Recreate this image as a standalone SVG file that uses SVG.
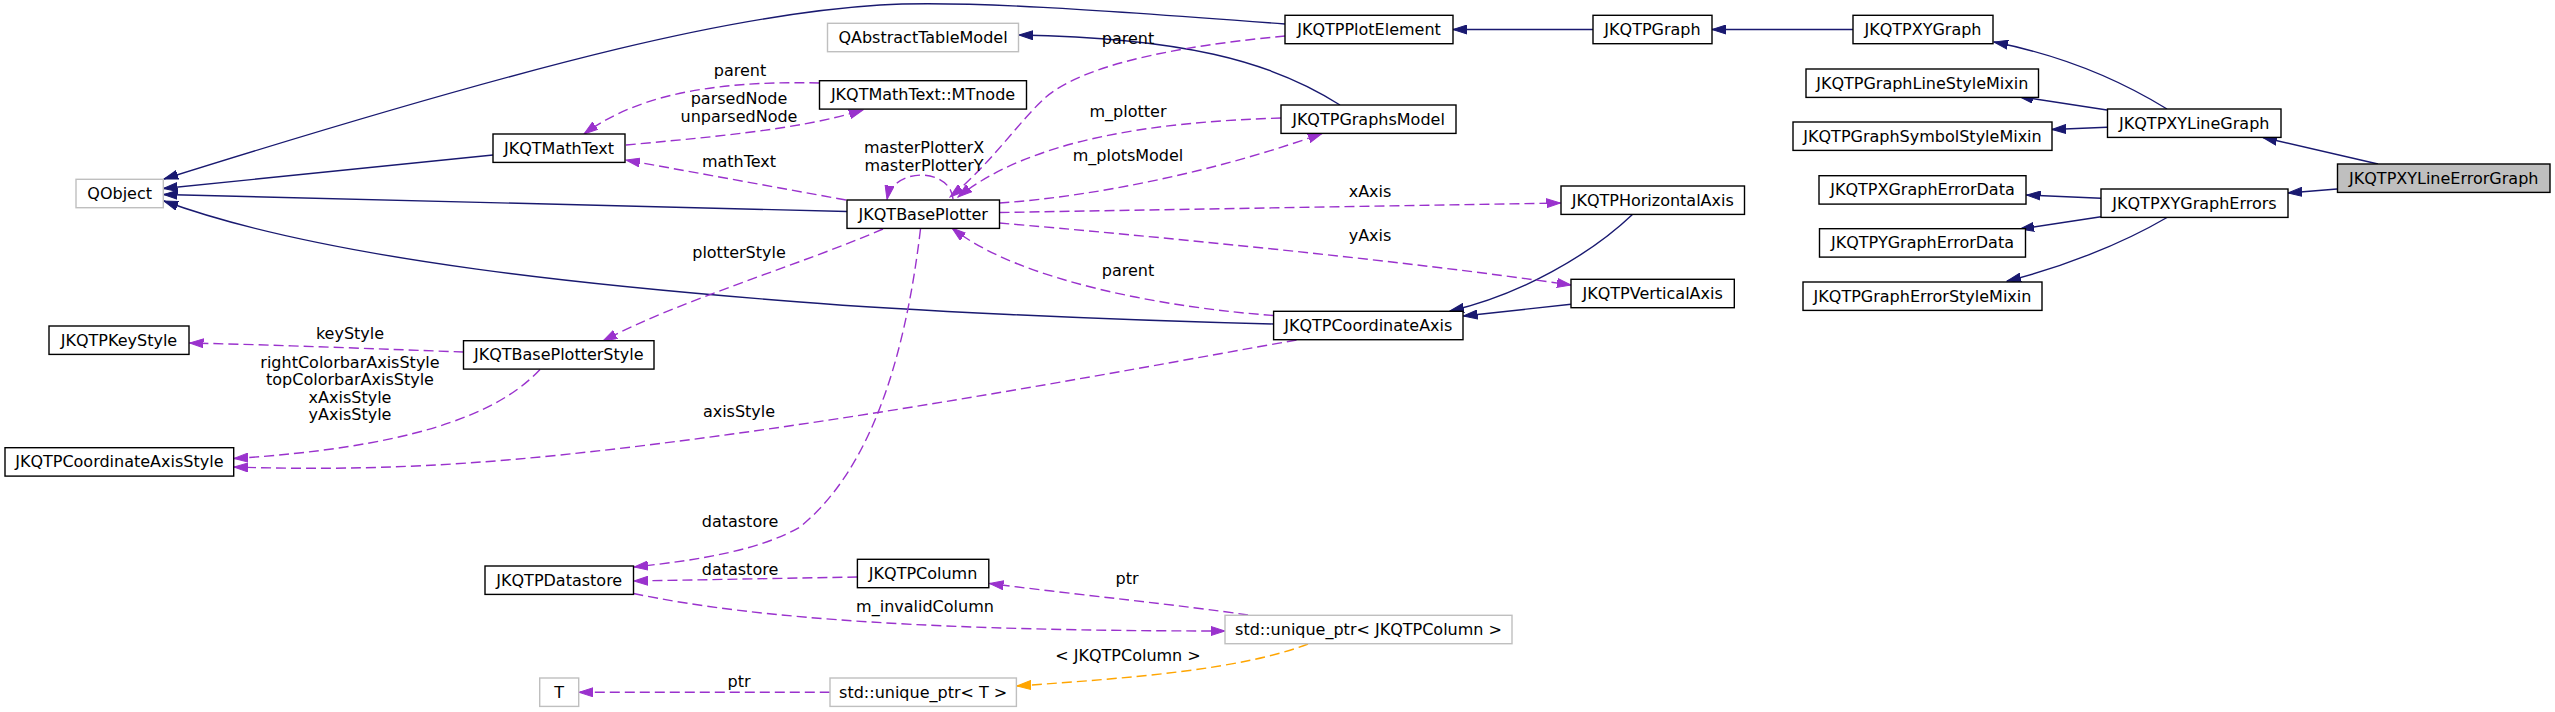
<svg xmlns="http://www.w3.org/2000/svg" width="2555" height="712" viewBox="0 0 2555 712">
<style>
text{font-family:"DejaVu Sans","Liberation Sans",sans-serif;font-size:16px;fill:#000;text-anchor:middle}
.nb{fill:#fff;stroke:#000;stroke-width:1.4}
.ng{fill:#fff;stroke:#bfbfbf;stroke-width:1.4}
.nh{fill:#bfbfbf;stroke:#000;stroke-width:1.4}
.inh{fill:none;stroke:#191970;stroke-width:1.4;marker-end:url(#an)}
.use{fill:none;stroke:#9a32cd;stroke-width:1.4;stroke-dasharray:10,5;marker-end:url(#ap)}
.tpl{fill:none;stroke:#ffa500;stroke-width:1.4;stroke-dasharray:10,5;marker-end:url(#ao)}
</style>
<defs>
<marker id="an" markerWidth="15" markerHeight="10" refX="14" refY="5" orient="auto" markerUnits="userSpaceOnUse"><path d="M0,0.5 L14,5 L0,9.5 z" fill="#191970" stroke="#191970" stroke-width="1"/></marker>
<marker id="ap" markerWidth="15" markerHeight="10" refX="14" refY="5" orient="auto" markerUnits="userSpaceOnUse"><path d="M0,0.5 L14,5 L0,9.5 z" fill="#9a32cd" stroke="#9a32cd" stroke-width="1"/></marker>
<marker id="ao" markerWidth="15" markerHeight="10" refX="14" refY="5" orient="auto" markerUnits="userSpaceOnUse"><path d="M0,0.5 L14,5 L0,9.5 z" fill="#ffa500" stroke="#ffa500" stroke-width="1"/></marker>
</defs>
<rect width="2555" height="712" fill="#fff"/>
<g id="connectors">
<path class="inh" d="M1285,24 C1100,10 960,0 880,5 C740,14 560,55 164,179"/>
<path class="inh" d="M493,155 L163.5,188.5"/>
<path class="inh" d="M847,211.5 L163.5,194.5"/>
<path class="inh" d="M1273.6,324 C1100,320 900,310 800,302 C620,288 330,262 164,201"/>
<path class="inh" d="M1340,105 C1270,60 1180,38 1019,35"/>
<path class="inh" d="M1593,29.5 L1453,29.5"/>
<path class="inh" d="M1853,29.5 L1712,29.5"/>
<path class="inh" d="M2167,109 C2120,80 2060,55 1994,42"/>
<path class="inh" d="M2107,110 L2019,96.5"/>
<path class="inh" d="M2107,127.3 L2052,129.5"/>
<path class="inh" d="M2378,164 L2263,137.5"/>
<path class="inh" d="M2337,189 L2288,193"/>
<path class="inh" d="M2101,198.3 L2026.5,195"/>
<path class="inh" d="M2101,216.7 L2020,229"/>
<path class="inh" d="M2167,217.5 C2120,245 2060,268 2007,281"/>
<path class="inh" d="M1633,214 C1590,255 1520,295 1450,311"/>
<path class="inh" d="M1571,304.3 L1463.5,316"/>
<path class="use" d="M819.5,83 C700,80 630,100 584,134"/>
<text x="740" y="76">parent</text>
<path class="use" d="M626,145 C700,138 800,130 863,110"/>
<text x="739" y="104">parsedNode</text>
<text x="739" y="121.5">unparsedNode</text>
<path class="use" d="M846,200 L626,160"/>
<text x="739" y="166.5">mathText</text>
<path class="use" d="M1285,36 C1200,44 1090,60 1046,97 C1020,120 990,165 950,197"/>
<text x="1128" y="44">parent</text>
<path class="use" d="M1281,118 C1150,122 1030,140 958,197"/>
<text x="1128" y="117">m_plotter</text>
<path class="use" d="M999.5,203 C1100,196 1220,170 1322,133.5"/>
<text x="1128" y="160.5">m_plotsModel</text>
<path class="use" d="M953,199 C950,167 893,167 887,199.5"/>
<text x="924" y="152.7">masterPlotterX</text>
<text x="924" y="170.7">masterPlotterY</text>
<path class="use" d="M999.5,212.5 L1560.5,203"/>
<text x="1370" y="196.7">xAxis</text>
<path class="use" d="M999.5,223 C1150,236 1400,260 1571,285"/>
<text x="1370" y="240.7">yAxis</text>
<path class="use" d="M1273.5,315.5 C1170,308 1020,282 952,228"/>
<text x="1128" y="276">parent</text>
<path class="use" d="M883,229 C800,265 680,300 603,341"/>
<text x="739" y="257.5">plotterStyle</text>
<path class="use" d="M463.5,352 C380,349 280,345 189.5,343"/>
<text x="350" y="339.3">keyStyle</text>
<path class="use" d="M540,369.5 C495,418 400,448 234,458.5"/>
<text x="350" y="367.5">rightColorbarAxisStyle</text>
<text x="350" y="385">topColorbarAxisStyle</text>
<text x="350" y="402.5">xAxisStyle</text>
<text x="350" y="420">yAxisStyle</text>
<path class="use" d="M1296.5,340 C1100,375 820,428 560,455 C430,468.5 330,470 234,467"/>
<text x="739" y="416.7">axisStyle</text>
<path class="use" d="M920.5,229 C905,360 870,470 800,527 C760,550 700,560 634,567"/>
<text x="740" y="527.3">datastore</text>
<path class="use" d="M857.4,577 L634,581"/>
<text x="740" y="575">datastore</text>
<path class="use" d="M633.5,593.5 C760,620 950,631 1225,631"/>
<text x="925" y="612">m_invalidColumn</text>
<path class="use" d="M1248,615 C1180,605 1080,595 989.5,583.5"/>
<text x="1127" y="584">ptr</text>
<path class="tpl" d="M1308,644 C1240,670 1130,678 1017,686"/>
<text x="1128" y="660.7">&lt; JKQTPColumn &gt;</text>
<path class="use" d="M829.8,692.3 L579,692.3"/>
<text x="739" y="686.7">ptr</text>
</g>
<g id="n_JKQTPXYLineErrorGraph"><rect class="nh" x="2337.5" y="164" width="212.5" height="28.4"/><text x="2443.75" y="183.7">JKQTPXYLineErrorGraph</text></g>
<g id="n_JKQTPXYLineGraph"><rect class="nb" x="2107.5" y="109" width="173.5" height="28.4"/><text x="2194.25" y="128.7">JKQTPXYLineGraph</text></g>
<g id="n_JKQTPXYGraphErrors"><rect class="nb" x="2101" y="189" width="187" height="28.4"/><text x="2194.5" y="208.7">JKQTPXYGraphErrors</text></g>
<g id="n_JKQTPXYGraph"><rect class="nb" x="1853" y="15.3" width="140" height="28.4"/><text x="1923" y="35">JKQTPXYGraph</text></g>
<g id="n_JKQTPGraphLineStyleMixin"><rect class="nb" x="1806" y="69" width="232.5" height="28.4"/><text x="1922.25" y="88.7">JKQTPGraphLineStyleMixin</text></g>
<g id="n_JKQTPGraphSymbolStyleMixin"><rect class="nb" x="1793" y="122" width="259" height="28.4"/><text x="1922.5" y="141.7">JKQTPGraphSymbolStyleMixin</text></g>
<g id="n_JKQTPXGraphErrorData"><rect class="nb" x="1819" y="175.7" width="207" height="28.4"/><text x="1922.5" y="195.4">JKQTPXGraphErrorData</text></g>
<g id="n_JKQTPYGraphErrorData"><rect class="nb" x="1819.5" y="228.7" width="206" height="28.4"/><text x="1922.5" y="248.4">JKQTPYGraphErrorData</text></g>
<g id="n_JKQTPGraphErrorStyleMixin"><rect class="nb" x="1803" y="282" width="239" height="28.4"/><text x="1922.5" y="301.7">JKQTPGraphErrorStyleMixin</text></g>
<g id="n_JKQTPGraph"><rect class="nb" x="1593" y="15.3" width="119" height="28.4"/><text x="1652.5" y="35">JKQTPGraph</text></g>
<g id="n_JKQTPPlotElement"><rect class="nb" x="1285" y="15.3" width="168" height="28.4"/><text x="1369" y="35">JKQTPPlotElement</text></g>
<g id="n_QAbstractTableModel"><rect class="ng" x="827.5" y="23.3" width="191" height="28.4"/><text x="923" y="43">QAbstractTableModel</text></g>
<g id="n_MTnode"><rect class="nb" x="819.5" y="80.7" width="207" height="28.4"/><text x="923" y="100.4">JKQTMathText::MTnode</text></g>
<g id="n_JKQTPGraphsModel"><rect class="nb" x="1281" y="105" width="175" height="28.4"/><text x="1368.5" y="124.7">JKQTPGraphsModel</text></g>
<g id="n_JKQTBasePlotter"><rect class="nb" x="847" y="200" width="152.5" height="28.4"/><text x="923.25" y="219.7">JKQTBasePlotter</text></g>
<g id="n_JKQTPHorizontalAxis"><rect class="nb" x="1561" y="186" width="183.5" height="28.4"/><text x="1652.75" y="205.7">JKQTPHorizontalAxis</text></g>
<g id="n_JKQTPVerticalAxis"><rect class="nb" x="1571" y="279.3" width="163.3" height="28.4"/><text x="1652.65" y="299">JKQTPVerticalAxis</text></g>
<g id="n_JKQTPCoordinateAxis"><rect class="nb" x="1273.6" y="311.3" width="189.4" height="28.4"/><text x="1368.3" y="331">JKQTPCoordinateAxis</text></g>
<g id="n_JKQTMathText"><rect class="nb" x="493" y="134" width="132" height="28.4"/><text x="559" y="153.7">JKQTMathText</text></g>
<g id="n_QObject"><rect class="ng" x="76" y="179.3" width="87.3" height="28.4"/><text x="119.65" y="199">QObject</text></g>
<g id="n_JKQTPKeyStyle"><rect class="nb" x="49" y="326" width="140" height="28.4"/><text x="119" y="345.7">JKQTPKeyStyle</text></g>
<g id="n_JKQTBasePlotterStyle"><rect class="nb" x="463.5" y="340.7" width="190.5" height="28.4"/><text x="558.75" y="360.4">JKQTBasePlotterStyle</text></g>
<g id="n_JKQTPCoordinateAxisStyle"><rect class="nb" x="5" y="447.7" width="228.7" height="28.4"/><text x="119.35" y="467.4">JKQTPCoordinateAxisStyle</text></g>
<g id="n_JKQTPDatastore"><rect class="nb" x="485" y="566" width="148.5" height="28.4"/><text x="559.25" y="585.7">JKQTPDatastore</text></g>
<g id="n_JKQTPColumn"><rect class="nb" x="857.4" y="559.3" width="131.4" height="28.4"/><text x="923.1" y="579">JKQTPColumn</text></g>
<g id="n_unique_ptr_JKQTPColumn"><rect class="ng" x="1225" y="615.3" width="287" height="28.4"/><text x="1368.5" y="635">std::unique_ptr&lt; JKQTPColumn &gt;</text></g>
<g id="n_unique_ptr_T"><rect class="ng" x="830" y="678" width="186.4" height="28.4"/><text x="923.2" y="697.7">std::unique_ptr&lt; T &gt;</text></g>
<g id="n_T"><rect class="ng" x="539.7" y="678" width="39" height="28.4"/><text x="559.2" y="697.7">T</text></g>
</svg>
